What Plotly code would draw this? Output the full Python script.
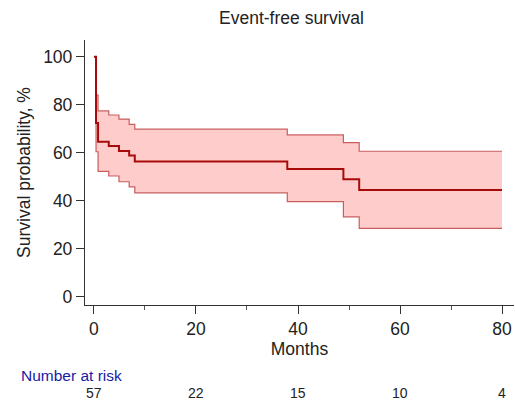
import plotly.graph_objects as go

# Kaplan-Meier step data (months, %)
times = [0, 0.4, 0.8, 2.9, 4.9, 6.9, 8.0, 37.9, 48.9, 52.0, 80]
surv = [100, 72.4, 64.6, 62.8, 60.7, 58.8, 56.3, 53.2, 48.9, 44.5, 44.5]
upper = [100, 84.0, 77.4, 75.7, 74.0, 71.8, 69.8, 67.4, 64.2, 60.6, 60.6]
lower = [100, 60.4, 52.2, 50.3, 47.9, 45.8, 43.3, 39.6, 33.3, 28.5, 28.5]

risk_times = [0, 20, 40, 60, 80]
risk_counts = ["57", "22", "15", "10", "4"]

font = "Liberation Sans, Arial, sans-serif"
band_edge = "rgba(190,70,70,0.85)"

W, H = 515, 401
L, R, T, B = 85, 1, 40, 96
pw, ph = W - L - R, H - T - B

def ypaper(py):
    return (H - B - py) / ph

def xpaper(px):
    return (px - L) / pw

fig = go.Figure()
fig.add_trace(go.Scatter(x=times, y=lower, mode="lines", line=dict(shape="hv", color=band_edge, width=1.2),
                         hoverinfo="skip", showlegend=False))
fig.add_trace(go.Scatter(x=times, y=upper, mode="lines", line=dict(shape="hv", color=band_edge, width=1.2),
                         fill="tonexty", fillcolor="rgba(255,204,204,1)", hoverinfo="skip", showlegend=False))
fig.add_trace(go.Scatter(x=times, y=surv, mode="lines", line=dict(shape="hv", color="#a80a0a", width=2),
                         showlegend=False))

for t, c in zip(risk_times, risk_counts):
    fig.add_annotation(x=t, xref="x", y=ypaper(393), yref="paper", text=c, showarrow=False,
                       font=dict(family=font, size=14, color="#222"), xanchor="center", yanchor="middle")
fig.add_annotation(x=xpaper(19), xref="paper", y=ypaper(375), yref="paper",
                   text="Number at risk", showarrow=False,
                   font=dict(family=font, size=15.5, color="#1a1aa6"), xanchor="left", yanchor="middle")

fig.update_layout(
    width=W, height=H,
    margin=dict(l=L, r=R, t=T, b=B),
    plot_bgcolor="white", paper_bgcolor="white",
    font=dict(family=font, size=17, color="#222"),
    title=dict(text="Event-free survival", x=(291.5 / W), xanchor="center", y=1 - 18 / H, yanchor="middle",
               font=dict(family=font, size=17.5, color="#222")),
    xaxis=dict(range=[-1.76, 82.35], showline=True, linecolor="#333", linewidth=1.3, mirror=False,
               ticks="outside", ticklen=8, tickwidth=1.3, tickcolor="#333",
               tickvals=[0, 20, 40, 60, 80], showgrid=False, zeroline=False,
               minor=dict(tickvals=[10, 30, 50, 70], ticks="outside", ticklen=4, tickwidth=1, tickcolor="#555"),
               title=dict(text="Months", standoff=4, font=dict(family=font, size=17.5, color="#222")),
               tickfont=dict(family=font, size=17.5, color="#222")),
    yaxis=dict(range=[-3.46, 106.96], showline=True, linecolor="#333", linewidth=1.3,
               ticks="outside", ticklen=8, tickwidth=1.3, tickcolor="#333",
               tickvals=[0, 20, 40, 60, 80, 100], showgrid=False, zeroline=False,
               title=dict(text="Survival probability, %", standoff=8, font=dict(family=font, size=17.5, color="#222")),
               tickfont=dict(family=font, size=17.5, color="#222")),
)

fig.write_html("out.html", config={"displayModeBar": False},
               post_script="document.body.style.margin='0';document.body.style.overflow='hidden';")
